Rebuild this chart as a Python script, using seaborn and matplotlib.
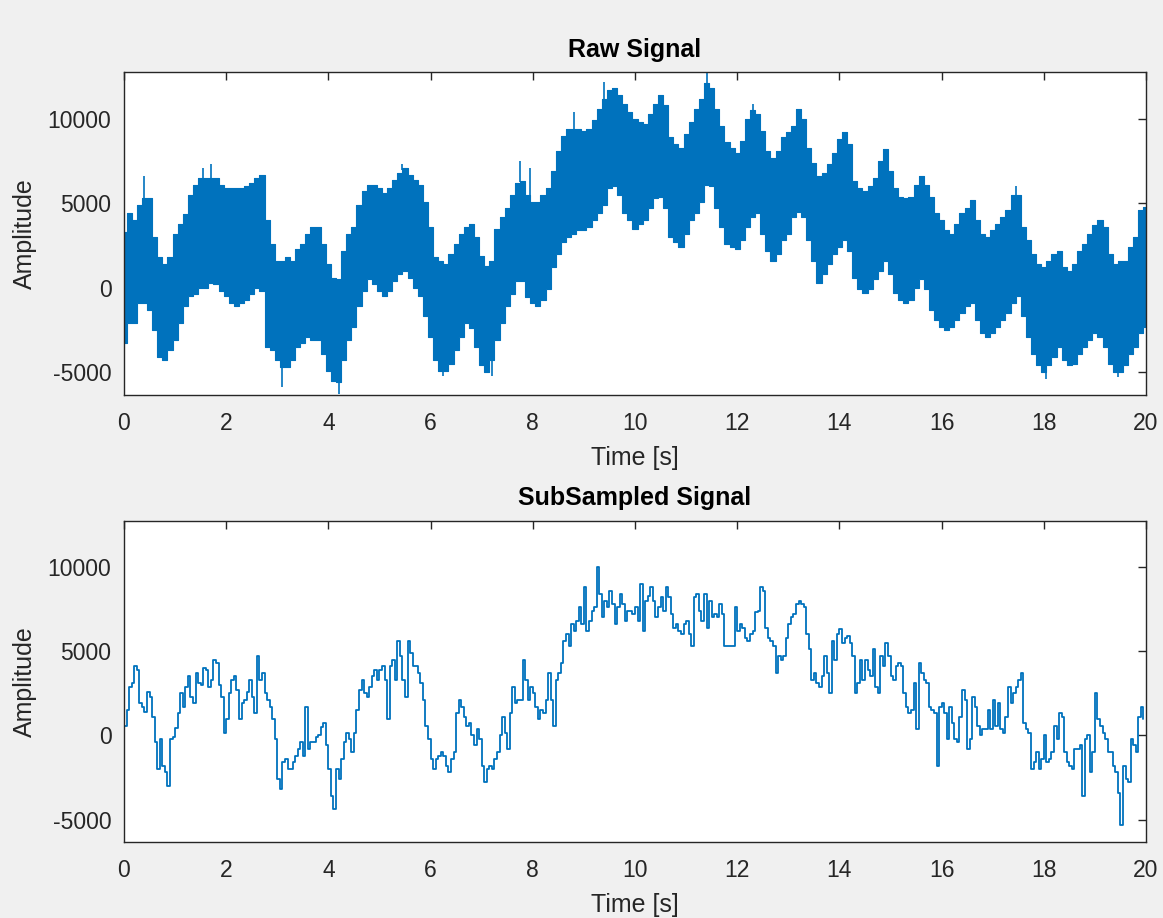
import numpy as np
import matplotlib
matplotlib.use('Agg')
import matplotlib.pyplot as plt
import seaborn as sns

# Raw signal envelope (thousands), sampled every 0.1 s from 0 to 20 s
raw_upper = [
    3.3, 4.45, 4.0, 4.9, 5.3, 5.3, 3.0, 1.8, 1.4, 1.8,
    3.2, 3.8, 4.35, 5.5, 6.1, 6.5, 6.5, 6.5, 6.5, 6.1,
    5.9, 5.9, 5.9, 5.9, 6.0, 6.2, 6.5, 6.7, 4.0, 2.6,
    1.6, 1.6, 1.8, 1.6, 2.3, 2.6, 3.2, 3.6, 3.6, 2.6,
    1.4, 0.6, 0.5, 2.2, 3.2, 3.6, 4.9, 5.7, 6.1, 6.1,
    5.9, 5.6, 5.9, 6.4, 6.8, 7.1, 6.7, 6.4, 6.1, 5.1,
    3.6, 1.8, 1.6, 1.4, 2.0, 2.6, 3.2, 3.6, 3.8, 3.0,
    1.9, 1.3, 1.6, 3.5, 4.2, 4.7, 5.5, 6.2, 6.3, 5.5,
    5.1, 5.1, 5.5, 5.9, 6.9, 8.1, 9.0, 9.4, 9.4, 9.4,
    9.3, 9.4, 9.9, 10.6, 11.2, 11.7, 11.8, 11.4, 10.9, 10.4,
    10.0, 9.8, 9.7, 10.3, 10.9, 11.4, 10.8, 8.9, 8.5, 8.3,
    9.1, 9.8, 10.6, 11.2, 12.1, 11.8, 10.6, 9.6, 8.6, 8.3,
    8.0, 8.7, 10.0, 10.5, 10.3, 9.3, 8.1, 7.7, 8.1, 8.9,
    9.2, 9.6, 10.6, 10.0, 8.3, 7.4, 6.6, 6.8, 7.3, 8.0,
    8.8, 9.2, 8.5, 6.3, 5.9, 5.7, 6.0, 6.5, 7.5, 8.2,
    6.9, 5.9, 5.4, 5.3, 5.4, 6.1, 6.6, 6.1, 5.4, 4.4,
    4.0, 3.4, 3.2, 3.8, 4.4, 4.7, 5.2, 4.0, 3.2, 3.0,
    3.4, 3.8, 4.2, 4.6, 5.5, 5.5, 3.6, 2.8, 2.0, 1.4,
    1.2, 1.6, 2.0, 2.2, 1.2, 1.0, 1.4, 2.2, 2.6, 3.2,
    3.7, 4.0, 3.6, 2.0, 1.4, 1.6, 1.6, 2.4, 3.0, 4.6,
    4.8,
]
raw_lower = [
    -3.3, -2.1, -2.1, -0.9, -0.9, -1.3, -2.5, -4.1, -4.3, -3.7,
    -3.1, -2.1, -1.1, -0.5, -0.35, 0.0, 0.0, 0.3, 0.2, -0.2,
    -0.5, -0.9, -1.1, -0.9, -0.7, -0.35, 0.0, -0.2, -3.5, -3.7,
    -4.3, -4.7, -4.7, -4.3, -3.5, -3.3, -2.9, -3.1, -3.1, -3.9,
    -4.9, -5.5, -5.6, -4.3, -3.1, -2.3, -1.1, -0.2, 0.5, 0.2,
    -0.2, -0.5, -0.2, 0.4, 0.8, 1.0, 0.6, 0.0, -0.5, -1.7,
    -2.9, -4.3, -4.9, -4.9, -4.5, -3.7, -2.9, -2.1, -2.4, -3.5,
    -4.6, -5.0, -4.3, -3.1, -2.1, -1.1, -0.35, 0.4, 0.4, -0.55,
    -0.9, -1.1, -0.7, -0.1, 1.2, 2.0, 2.7, 3.0, 3.2, 3.4,
    3.4, 3.6, 4.0, 4.4, 4.9, 5.9, 6.0, 5.5, 4.4, 4.0,
    3.5, 3.8, 4.0, 4.7, 5.3, 5.4, 4.7, 3.0, 2.7, 2.4,
    3.2, 4.0, 4.4, 5.1, 6.1, 6.0, 4.7, 3.6, 2.6, 2.4,
    2.3, 2.8, 3.6, 4.2, 4.4, 3.2, 2.2, 1.6, 2.0, 2.8,
    3.2, 4.2, 4.5, 4.2, 2.8, 1.6, 0.3, 0.8, 1.4, 2.0,
    2.4, 2.8, 2.2, 0.6, -0.1, -0.3, -0.1, 0.5, 1.0, 1.6,
    0.8, -0.3, -0.7, -0.9, -0.7, 0.0, 0.5, -0.1, -1.3, -1.9,
    -2.3, -2.5, -2.3, -1.9, -1.5, -1.1, -0.9, -1.9, -2.7, -2.9,
    -2.7, -2.3, -1.9, -1.5, -0.9, -0.5, -1.7, -2.9, -3.9, -4.6,
    -5.0, -4.6, -4.1, -3.5, -4.3, -4.6, -4.5, -3.9, -3.5, -3.1,
    -2.7, -2.9, -3.5, -4.5, -5.0, -5.0, -4.6, -3.9, -3.5, -2.7,
    -2.3,
]
# isolated spikes sticking out of the raw band: time [s], tip (thousands)
spike_t = [0.4, 1.55, 1.7, 5.45, 7.75, 7.95, 8.8, 9.4, 11.4, 12.3, 17.45,
           3.1, 4.2, 6.25, 7.2, 18.05, 19.45]
spike_v = [6.6, 7.1, 7.3, 7.3, 7.5, 7.1, 10.4, 12.2, 12.7, 10.9, 6.0,
           -5.9, -6.3, -5.2, -5.2, -5.4, -5.3]

# SubSampled signal (thousands), one value every 0.05 s
sub_y = [
    0.55, 1.5, 2.9, 3.1, 4.1, 3.9, 1.9, 1.7, 1.4, 2.6,
    2.3, 1.1, -0.4, -2.0, -0.2, -1.8, -2.2, -3.0, -0.2, -0.1,
    0.45, 1.3, 2.5, 1.7, 2.9, 3.5, 2.3, 1.9, 3.7, 3.1,
    3.0, 4.0, 3.9, 2.9, 3.3, 4.5, 4.3, 3.0, 2.3, 0.15,
    0.95, 2.5, 3.3, 3.5, 2.7, 0.95, 1.9, 2.1, 2.6, 3.3,
    2.3, 1.3, 4.7, 3.3, 3.7, 2.5, 2.1, 1.7, 0.95, -0.2,
    -2.6, -3.2, -1.6, -1.4, -2.0, -2.0, -1.6, -1.2, -0.8, -0.4,
    -1.2, 1.7, -0.8, -0.4, -0.4, -0.1, 0.0, 0.5, 0.75, -0.6,
    -2.0, -3.6, -4.4, -2.0, -2.6, -1.4, -0.4, 0.15, -0.2, -1.0,
    0.15, 1.5, 2.7, 3.3, 2.5, 2.3, 2.9, 3.5, 3.9, 3.3,
    3.9, 4.1, 3.3, 0.95, 4.1, 4.5, 3.3, 5.6, 4.7, 3.3,
    2.3, 5.6, 4.9, 4.1, 4.1, 3.7, 3.1, 2.1, 0.55, -0.2,
    -1.4, -2.0, -1.4, -1.2, -1.0, -1.2, -1.8, -2.2, -1.4, -1.0,
    1.3, 2.1, 1.7, 1.1, 0.55, 0.75, 0.0, -0.6, 0.35, -0.2,
    -1.8, -2.8, -2.0, -1.8, -2.0, -1.4, -1.0, 0.0, 1.1, 0.15,
    -0.8, 1.3, 2.9, 1.9, 2.1, 2.1, 4.5, 3.3, 2.1, 2.9,
    2.5, 1.7, 0.95, 1.5, 1.3, 2.1, 3.7, 2.1, 0.55, 3.3,
    3.7, 4.3, 5.6, 6.0, 5.3, 6.6, 6.2, 6.8, 7.6, 6.6,
    8.8, 6.2, 6.8, 7.4, 7.6, 10.0, 8.4, 7.0, 8.0, 7.6,
    8.6, 7.8, 6.6, 7.6, 8.4, 7.8, 6.8, 7.4, 7.4, 7.2,
    7.6, 6.8, 9.0, 6.2, 8.0, 8.3, 8.8, 8.0, 7.0, 7.6,
    8.2, 7.4, 8.8, 8.2, 7.2, 6.4, 6.6, 6.2, 6.0, 6.6,
    6.8, 6.0, 5.3, 8.2, 8.4, 7.4, 6.8, 8.4, 6.4, 8.0,
    7.0, 7.2, 7.0, 7.8, 7.2, 5.3, 5.3, 5.3, 5.3, 7.6,
    6.2, 6.6, 6.4, 5.8, 5.6, 6.0, 6.2, 7.3, 7.4, 8.8,
    8.6, 6.4, 5.8, 5.6, 5.3, 3.7, 4.7, 4.5, 4.7, 5.8,
    6.6, 7.0, 7.2, 7.8, 8.0, 7.8, 7.6, 6.0, 5.1, 3.3,
    3.7, 3.1, 2.9, 3.5, 4.7, 3.7, 2.5, 5.6, 4.5, 6.0,
    6.3, 5.5, 5.8, 5.9, 5.5, 4.7, 2.5, 3.1, 4.5, 3.3,
    4.5, 3.9, 3.5, 5.1, 2.9, 2.5, 4.7, 4.1, 5.5, 4.7,
    3.5, 3.3, 4.1, 4.3, 4.1, 2.5, 1.7, 1.3, 1.5, 3.1,
    0.35, 4.3, 3.7, 3.3, 3.1, 1.7, 1.5, 1.3, -1.8, 1.7,
    1.9, 1.3, -0.2, 1.7, 0.75, -0.2, -0.4, 1.1, 2.7, 2.1,
    -0.8, -0.2, 2.3, 1.7, 0.55, 0.0, 0.35, 0.35, 1.5, 0.35,
    2.1, 0.55, 1.9, 0.35, 0.15, 1.1, 2.9, 1.9, 2.5, 2.9,
    3.3, 3.7, 0.75, 0.35, 0.15, -2.0, -1.6, -1.0, -2.0, -1.4,
    0.0, -1.6, -1.4, -1.0, 0.55, -0.2, 1.3, 1.1, -1.0, -1.6,
    -1.8, -2.0, -0.8, -0.8, -0.6, -3.6, -0.2, 0.0, -2.2, -1.0,
    2.5, 0.95, 0.55, 0.15, -0.2, -1.0, -1.0, -1.8, -2.2, -3.4,
    -5.3, -1.8, -2.6, -2.8, -0.2, -0.6, -1.0, 1.1, 1.7, 0.95,
]

raw_t = np.linspace(0, 20, len(raw_upper))
sub_t = np.arange(len(sub_y)) * 0.05
raw_upper = np.array(raw_upper) * 1000
raw_lower = np.array(raw_lower) * 1000
spike_v = np.array(spike_v) * 1000
sub_y = np.array(sub_y) * 1000

# closest band edge for every spike
spike_base = [np.interp(t, raw_t, raw_upper if v > 0 else raw_lower) for t, v in zip(spike_t, spike_v)]

blue = '#0072BD'
dark = '#262626'

sns.set_theme(style='white')
plt.rcParams['font.family'] = ['Liberation Sans', 'DejaVu Sans']
plt.rcParams['axes.unicode_minus'] = False

fig = plt.figure(figsize=(11.63, 9.18), dpi=100, facecolor='#f0f0f0')
ax1 = fig.add_axes([0.1066, 0.5697, 0.8788, 0.3515])
ax2 = fig.add_axes([0.1066, 0.0825, 0.8788, 0.3503])

# raw signal: dense band
ax1.fill_between(raw_t, raw_lower, raw_upper, step='mid', color=blue, lw=0)
sns.lineplot(x=raw_t, y=raw_upper, ax=ax1, color=blue, lw=0.8, drawstyle='steps-mid', estimator=None)
sns.lineplot(x=raw_t, y=raw_lower, ax=ax1, color=blue, lw=0.8, drawstyle='steps-mid', estimator=None)
ax1.vlines(spike_t, spike_base, spike_v, color=blue, lw=1.2)

# subsampled signal
sns.lineplot(x=sub_t, y=sub_y, ax=ax2, color=blue, lw=1.3, drawstyle='steps-post', estimator=None)

for ax, title in [(ax1, 'Raw Signal'), (ax2, 'SubSampled Signal')]:
    ax.set_facecolor('white')
    ax.set_xlim(0, 20)
    ax.set_ylim(-6350, 12750)
    ax.set_xticks(range(0, 21, 2))
    ax.set_yticks([-5000, 0, 5000, 10000])
    ax.tick_params(direction='in', length=6, width=1, top=True, right=True,
                   labelsize=16.5, colors=dark)
    ax.tick_params(axis='x', pad=12)
    ax.tick_params(axis='y', pad=9)
    for s in ax.spines.values():
        s.set_color(dark)
        s.set_linewidth(1)
    ax.set_title(title, fontsize=18, fontweight='bold', color='black', pad=11)
    ax.set_xlabel('Time [s]', fontsize=18, color=dark, labelpad=8)
    ax.set_ylabel('Amplitude', fontsize=18, color=dark, labelpad=8)

fig.savefig('out.png', dpi=100, facecolor=fig.get_facecolor())
